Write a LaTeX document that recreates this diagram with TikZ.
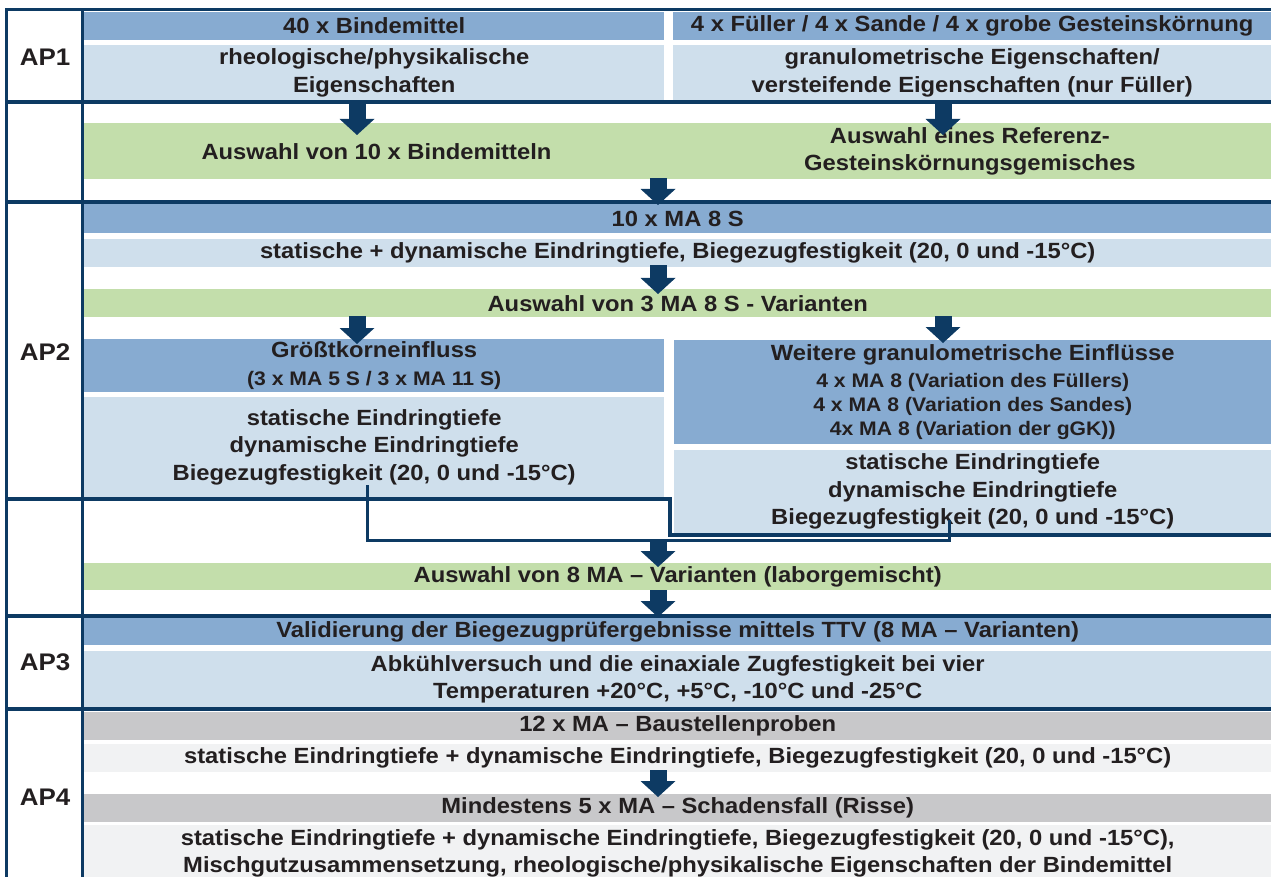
\documentclass[tikz,border=0pt]{standalone}
\usepackage{fontspec}
\setmainfont{Liberation Sans}[FakeStretch=1.08]
\usetikzlibrary{arrows.meta,calc}

\definecolor{navy}{HTML}{0D3A63}
\definecolor{hdrblue}{HTML}{87ABD1}
\definecolor{lightblue}{HTML}{CFDFEC}
\definecolor{selgreen}{HTML}{C3DEAB}
\definecolor{bandgray}{HTML}{C8C8CA}
\definecolor{palegray}{HTML}{F1F2F3}
\definecolor{txt}{HTML}{231F20}

\newcommand{\mainfnt}{\fontsize{22}{27.5}\selectfont\bfseries}
\newcommand{\subfnt}{\fontsize{19.6}{24}\selectfont\bfseries}
\newcommand{\apfnt}{\fontsize{24}{28}\selectfont\bfseries}

\begin{document}
\begin{tikzpicture}[x=1pt, y=-1pt,
    band/.style={rectangle, inner sep=0pt, anchor=north west, align=center, text=txt, font=\mainfnt},
    wh/.style 2 args={minimum width=#1pt, minimum height=#2pt},
    hdr/.style={band, fill=hdrblue},
    prop/.style={band, fill=lightblue},
    sel/.style={band, fill=selgreen},
    site/.style={band, fill=bandgray},
    sitetest/.style={band, fill=palegray},
    aplabel/.style={font=\apfnt, text=txt},
    frame/.style={draw=navy, line width=3.5pt},
    link/.style={draw=navy, line width=3pt},
    bigarrow/.style={draw=navy, line width=17pt, -{Triangle[width=35pt,length=16pt,line width=0pt]}}]

    \useasboundingbox (0,0) rectangle (1271,877);
    \clip (0,0) rectangle (1271,877);

    % AP1
    \node[hdr, wh={580}{28.5}] (bindH) at (84,11.5) {40 x Bindemittel};
    \node[hdr, wh={598}{28.5}] (rockH) at (673,11.5) {4 x Füller / 4 x Sande / 4 x grobe Gesteinskörnung};
    \node[prop, wh={580}{55}] (bindP) at (84,45) {rheologische/physikalische\\Eigenschaften};
    \node[prop, wh={598}{55}] (rockP) at (673,45) {granulometrische Eigenschaften/\\versteifende Eigenschaften (nur Füller)};

    % Auswahl
    \node[sel, wh={584.5}{56}] (bindS) at (84,123) {Auswahl von 10 x Bindemitteln};
    \node[sel, wh={602.5}{56}] (rockS) at (668.5,123) {Auswahl eines Referenz-\\Gesteinskörnungsgemisches};

    % AP2
    \node[hdr, wh={1187}{29}] (ma8) at (84,204) {10 x MA 8 S};
    \node[prop, wh={1187}{28}] (ma8P) at (84,239) {statische + dynamische Eindringtiefe, Biegezugfestigkeit (20, 0 und -15°C)};
    \node[sel, wh={1187}{28}] (ma8S) at (84,289) {Auswahl von 3 MA 8 S - Varianten};
    \node[hdr, wh={580}{53}] (grossH) at (84,339) {Größtkorneinfluss\\{\subfnt (3 x MA 5 S / 3 x MA 11 S)}};
    \node[prop, wh={580}{100}] (grossP) at (84,397) {statische Eindringtiefe\\dynamische Eindringtiefe\\Biegezugfestigkeit (20, 0 und -15°C)};
    \node[hdr, wh={597}{104}] (granH) at (674,340) {Weitere granulometrische Einflüsse\\{\subfnt 4 x MA 8 (Variation des Füllers)}\\[-3.5pt]{\subfnt 4 x MA 8 (Variation des Sandes)}\\[-3.5pt]{\subfnt 4x MA 8 (Variation der gGK))}};
    \node[prop, wh={597}{83}] (granP) at (674,450) {statische Eindringtiefe\\dynamische Eindringtiefe\\Biegezugfestigkeit (20, 0 und -15°C)};
    \node[sel, wh={1187}{27}] (labS) at (84,563) {Auswahl von 8 MA – Varianten (laborgemischt)};

    % AP3
    \node[hdr, wh={1187}{27}] (ttv) at (84,618) {Validierung der Biegezugprüfergebnisse mittels TTV (8 MA – Varianten)};
    \node[prop, wh={1187}{56}] (ttvP) at (84,651) {Abkühlversuch und die einaxiale Zugfestigkeit bei vier\\Temperaturen +20°C, +5°C, -10°C und -25°C};

    % AP4
    \node[site, wh={1187}{28}] (bau) at (84,712) {12 x MA – Baustellenproben};
    \node[sitetest, wh={1187}{28}] (bauP) at (84,744) {statische Eindringtiefe + dynamische Eindringtiefe, Biegezugfestigkeit (20, 0 und -15°C)};
    \node[site, wh={1187}{28}] (riss) at (84,794) {Mindestens 5 x MA – Schadensfall (Risse)};
    \node[sitetest, wh={1187}{56}] (rissP) at (84,825) {statische Eindringtiefe + dynamische Eindringtiefe, Biegezugfestigkeit (20, 0 und -15°C),\\Mischgutzusammensetzung, rheologische/physikalische Eigenschaften der Bindemittel};

    % Labels
    \node[aplabel] (ap1) at (45,57) {AP1};
    \node[aplabel] (ap2) at (45,352) {AP2};
    \node[aplabel] (ap3) at (45,662) {AP3};
    \node[aplabel] (ap4) at (45,797) {AP4};

    % Frame
    \draw[frame] (6.5,900) |- (1290,9.5);
    \draw[frame] (82.5,9.5) -- (82.5,900);
    \foreach \y in {102,202,616,709}
        \draw[frame] (6.5,\y) -- (1290,\y);
    \draw[frame] (6.5,499) -- (670,499) -- (670,535) -- (1290,535);

    % Links
    \coordinate (xL) at (357,0);
    \coordinate (xR) at (943,0);
    \coordinate (xM) at (658,0);
    \coordinate (join) at ($(labS.north -| xM)+(0,-21)$);
    \draw[link] ($(grossP.south)+(-7,-12)$) |- ($(granP.south)+(-23.5,7)$) -- ($(granP.south)+(-23.5,-13)$);

    % Arrows
    \draw[bigarrow] ($(bindP.south -| xL)+(0,4)$) -- ($(bindS.north -| xL)+(0,12)$);
    \draw[bigarrow] ($(rockP.south -| xR)+(0,4)$) -- ($(rockS.north -| xR)+(0,12)$);
    \draw[bigarrow] ($(bindS.south -| xM)+(0,-1)$) -- ($(ma8.north -| xM)+(0,1)$);
    \draw[bigarrow] ($(ma8P.south -| xM)+(0,-2)$) -- ($(ma8S.north -| xM)+(0,5)$);
    \draw[bigarrow] ($(ma8S.south -| xL)+(0,-1)$) -- ($(grossH.north -| xL)+(0,5)$);
    \draw[bigarrow] ($(ma8S.south -| xR)+(0,-1)$) -- ($(granH.north -| xR)+(0,3)$);
    \draw[bigarrow] (join) -- ($(labS.north -| xM)+(0,4)$);
    \draw[bigarrow] (labS.south -| xM) -- ($(ttv.north -| xM)+(0,-1)$);
    \draw[bigarrow] ($(bauP.south -| xM)+(0,-2)$) -- ($(riss.north -| xM)+(0,3)$);
\end{tikzpicture}
\end{document}
